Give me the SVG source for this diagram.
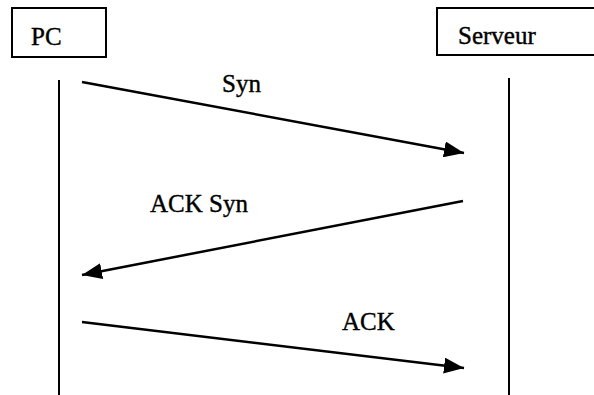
<svg xmlns="http://www.w3.org/2000/svg" width="594" height="395" viewBox="0 0 594 395">
<style>
.box{fill:#fff;stroke:#000;stroke-width:2}
.life{stroke:#000;stroke-width:2;fill:none}
.msg{stroke:#000;stroke-width:2.5;fill:none;marker-end:url(#ah)}
.lbl{font-family:'Liberation Serif','DejaVu Serif','Times New Roman',serif;font-size:25px;fill:#000;stroke:#000;stroke-width:0.4}
</style>
<defs>
<marker id="ah" markerUnits="userSpaceOnUse" viewBox="0 0 20 16" refX="20" refY="8" markerWidth="20" markerHeight="16" orient="auto">
<path d="M0,0 L20,8 L0,16 Z" fill="#000"/>
</marker>
</defs>
<rect width="594" height="395" fill="#fff"/>
<g id="pc">
<rect class="box" x="12" y="8" width="94" height="49"/>
<text class="lbl" x="31" y="45" font-family="Liberation Serif, serif">PC</text>
<line class="life" x1="59" y1="80" x2="59" y2="395"/>
</g>
<g id="serveur">
<rect class="box" x="437" y="8" width="160" height="47"/>
<text class="lbl" x="458" y="44" font-family="Liberation Serif, serif">Serveur</text>
<line class="life" x1="509" y1="78" x2="509" y2="395"/>
</g>
<g id="connectors">
<line class="msg" x1="82" y1="82" x2="464" y2="153"/>
<line class="msg" x1="463" y1="201" x2="82" y2="275"/>
<line class="msg" x1="82" y1="322" x2="464" y2="368"/>
<text class="lbl" x="222" y="92" font-family="Liberation Serif, serif">Syn</text>
<text class="lbl" x="150" y="212" font-family="Liberation Serif, serif">ACK Syn</text>
<text class="lbl" x="342" y="330" font-family="Liberation Serif, serif">ACK</text>
</g>
</svg>
